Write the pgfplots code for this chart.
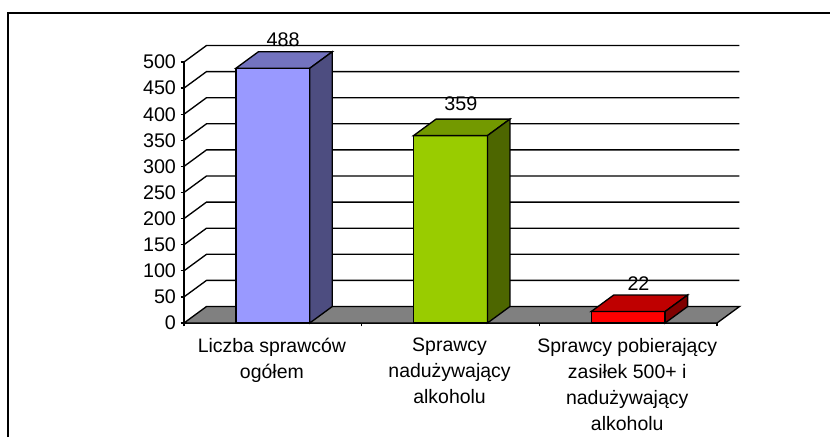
\documentclass[border=0pt]{standalone}
\usepackage{pgfplots}
\pgfplotsset{compat=1.18}
\usepackage{fontspec}
\setmainfont{Liberation Sans}
\definecolor{bA}{HTML}{9999FF}\definecolor{bAt}{HTML}{7373BF}\definecolor{bAs}{HTML}{4D4D80}
\definecolor{bB}{HTML}{99CC00}\definecolor{bBt}{HTML}{739900}\definecolor{bBs}{HTML}{4D6600}
\definecolor{bC}{HTML}{FF0000}\definecolor{bCt}{HTML}{BF0000}\definecolor{bCs}{HTML}{800000}
\begin{document}
\begin{tikzpicture}[x=0.75pt,y=0.75pt]
\path[use as bounding box] (-184,-114) rectangle (646,323);
\draw[line width=1.5pt,black] (-176,-114) -- (-176,310) -- (646,310);
\begin{axis}[
  at={(0,0)},anchor=south west,
  scale only axis,width=399.75pt,height=195.75pt,
  xmin=-0.5,xmax=2.5,ymin=0,ymax=500,clip=false,
  axis x line=bottom,axis y line=left,
  axis line style={-,line width=1pt},
  tick align=outside,
  ytick={0,50,...,500},
  ytick pos=left,
  tick style={black,line width=1pt},
  major tick length=2.5pt,
  xtick={-0.5,0.5,1.5,2.5},
  xticklabels={},
  extra x ticks={0,1,2},
  extra x tick labels={Liczba sprawców\\ogółem,Sprawcy\\nadużywający\\alkoholu,Sprawcy pobierający\\zasiłek 500+ i\\nadużywający\\alkoholu},
  extra x tick style={major tick length=0pt,
    xticklabel style={align=center,anchor=north,xshift=-0.7pt,yshift=-8pt,font=\fontsize{14.6pt}{19.5pt}\selectfont}},
  yticklabel style={font=\fontsize{14.8pt}{17pt}\selectfont},
  /pgf/number format/assume math mode=true,
  cycle list={{black,line width=1pt,mark=none}},
]
% walls: grid lines
\addplot[black,line width=1pt] coordinates {(-0.5,50)(-0.3734,81.6)(2.6266,81.6)};
\addplot[black,line width=1pt] coordinates {(-0.5,100)(-0.3734,131.6)(2.6266,131.6)};
\addplot[black,line width=1pt] coordinates {(-0.5,150)(-0.3734,181.6)(2.6266,181.6)};
\addplot[black,line width=1pt] coordinates {(-0.5,200)(-0.3734,231.6)(2.6266,231.6)};
\addplot[black,line width=1pt] coordinates {(-0.5,250)(-0.3734,281.6)(2.6266,281.6)};
\addplot[black,line width=1pt] coordinates {(-0.5,300)(-0.3734,331.6)(2.6266,331.6)};
\addplot[black,line width=1pt] coordinates {(-0.5,350)(-0.3734,381.6)(2.6266,381.6)};
\addplot[black,line width=1pt] coordinates {(-0.5,400)(-0.3734,431.6)(2.6266,431.6)};
\addplot[black,line width=1pt] coordinates {(-0.5,450)(-0.3734,481.6)(2.6266,481.6)};
\addplot[black,line width=1pt] coordinates {(-0.5,500)(-0.3734,531.6)(2.6266,531.6)};
% floor
\addplot[black,line width=1pt,fill=gray] coordinates {(-0.5,0)(-0.3734,31.6)(2.6266,31.6)(2.5,0)} -- cycle;
% bar 1: 488
\addplot[black,line width=1pt,fill=bA]  coordinates {(-0.208,0)(-0.208,488)(0.208,488)(0.208,0)} -- cycle;
\addplot[black,line width=1pt,fill=bAt] coordinates {(-0.208,488)(-0.0814,519.6)(0.3346,519.6)(0.208,488)} -- cycle;
\addplot[black,line width=1pt,fill=bAs] coordinates {(0.208,0)(0.208,488)(0.3346,519.6)(0.3346,31.6)} -- cycle;
% bar 2: 359
\addplot[black,line width=1pt,fill=bB]  coordinates {(0.792,0)(0.792,359)(1.208,359)(1.208,0)} -- cycle;
\addplot[black,line width=1pt,fill=bBt] coordinates {(0.792,359)(0.9186,390.6)(1.3346,390.6)(1.208,359)} -- cycle;
\addplot[black,line width=1pt,fill=bBs] coordinates {(1.208,0)(1.208,359)(1.3346,390.6)(1.3346,31.6)} -- cycle;
% bar 3: 22
\addplot[black,line width=1pt,fill=bC]  coordinates {(1.792,0)(1.792,22)(2.208,22)(2.208,0)} -- cycle;
\addplot[black,line width=1pt,fill=bCt] coordinates {(1.792,22)(1.9186,53.6)(2.3346,53.6)(2.208,22)} -- cycle;
\addplot[black,line width=1pt,fill=bCs] coordinates {(2.208,0)(2.208,22)(2.3346,53.6)(2.3346,31.6)} -- cycle;
% value labels
\node[font=\fontsize{14.8pt}{17pt}\selectfont,inner sep=0pt] at (axis cs:0.058,542) {488};
\node[font=\fontsize{14.8pt}{17pt}\selectfont,inner sep=0pt] at (axis cs:1.058,421) {359};
\node[font=\fontsize{14.8pt}{17pt}\selectfont,inner sep=0pt] at (axis cs:2.058,76) {22};
\end{axis}
\end{tikzpicture}
\end{document}
